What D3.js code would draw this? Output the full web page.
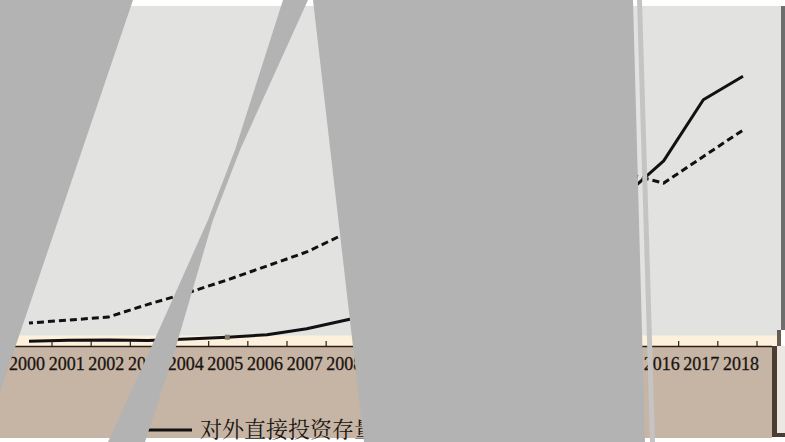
<!DOCTYPE html>
<html>
<head>
<meta charset="utf-8">
<script src="https://cdn.jsdelivr.net/npm/d3@7"></script>
<style>
  html, body { margin: 0; padding: 0; background: #fff; }
  svg { display: block; }
</style>
</head>
<body>
<div id="chart"></div>
<script>
// years on the category axis
var years = [2000, 2001, 2002, 2003, 2004, 2005, 2006, 2007, 2008, 2009,
             2010, 2011, 2012, 2013, 2014, 2015, 2016, 2017, 2018];
// 对外直接投资存量 (solid)
var outStock = [27.8, 34.7, 37.2, 33.2, 44.8, 57.2, 75.0, 120.0, 183.9, 245.8,
                317.2, 424.8, 531.9, 660.5, 882.6, 1097.9, 1357.4, 1809.0, 1982.3];
// 外商直接投资存量 (dashed)
var inStock = [162, 184, 206, 300, 385, 480, 583, 686, 826, 900,
               960, 1010, 1060, 1110, 1180, 1268, 1194, 1390, 1585];
var seriesNames = ["对外直接投资存量", "外商直接投资存量"];
var markerYears = [2005];

var W = 785, H = 442;

var svg = d3.select("#chart").append("svg")
    .attr("width", W)
    .attr("height", H);

// background panels
svg.append("rect").attr("x", 0).attr("y", 6).attr("width", 781).attr("height", 330).attr("fill", "#e2e2e1");
svg.append("rect").attr("x", 781).attr("y", 6).attr("width", 4).attr("height", 324).attr("fill", "#6e6e6e");
svg.append("rect").attr("x", 0).attr("y", 335.5).attr("width", 777).attr("height", 11).attr("fill", "#fdf0dc");
svg.append("rect").attr("x", 777).attr("y", 330).attr("width", 4).attr("height", 16).attr("fill", "#6a5b4c");
svg.append("rect").attr("x", 0).attr("y", 346).attr("width", 772).attr("height", 92).attr("fill", "#c6b5a5");
svg.append("rect").attr("x", 777).attr("y", 346).attr("width", 8).attr("height", 87).attr("fill", "#ebe8e4");
svg.append("rect").attr("x", 772).attr("y", 346).attr("width", 5).attr("height", 91).attr("fill", "#4b3d31");
svg.append("rect").attr("x", 772).attr("y", 433).attr("width", 13).attr("height", 4).attr("fill", "#4b3d31");

// scales
var x = d3.scalePoint().domain(years).range([29, 743]);
var xTick = d3.scalePoint().domain(years).range([52, 757]);
var y = d3.scaleLinear().domain([0, 2500]).range([345, 6]);

// lines
var line = d3.line()
    .x(function(d) { return x(d.year); })
    .y(function(d) { return y(d.v); });

var outData = years.map(function(yr, i) { return {year: yr, v: outStock[i]}; });
var inData = years.map(function(yr, i) { return {year: yr, v: inStock[i]}; });

svg.append("path")
    .datum(inData)
    .attr("d", line)
    .attr("fill", "none")
    .attr("stroke", "#111")
    .attr("stroke-width", 3)
    .attr("stroke-dasharray", "7,4")
    .attr("stroke-dashoffset", -8);

svg.append("path")
    .datum(outData)
    .attr("d", line)
    .attr("fill", "none")
    .attr("stroke", "#111")
    .attr("stroke-width", 3)
    .attr("stroke-linejoin", "round");

svg.selectAll(".mk")
    .data(outData.filter(function(d) { return markerYears.indexOf(d.year) >= 0; }))
    .enter().append("rect")
    .attr("x", function(d) { return x(d.year) - 2.5; })
    .attr("y", function(d) { return y(d.v) - 2.5; })
    .attr("width", 5)
    .attr("height", 5)
    .attr("fill", "#857a66");

// x axis: base line, ticks, labels
svg.append("line")
    .attr("x1", 0).attr("x2", 772)
    .attr("y1", 346.5).attr("y2", 346.5)
    .attr("stroke", "#2a2018").attr("stroke-width", 1.5);

svg.selectAll(".tk")
    .data(years)
    .enter().append("line")
    .attr("x1", function(d) { return xTick(d); })
    .attr("x2", function(d) { return xTick(d); })
    .attr("y1", 341).attr("y2", 346)
    .attr("stroke", "#2a2018").attr("stroke-width", 1.2);

svg.selectAll(".lbl")
    .data(years)
    .enter().append("text")
    .attr("x", function(d) { return x(d) - 2; })
    .attr("y", 370)
    .attr("text-anchor", "middle")
    .attr("font-family", "'Liberation Serif', 'DejaVu Serif', serif")
    .attr("font-size", 18)
    .attr("stroke", "#1a1410")
    .attr("stroke-width", 0.3)
    .attr("fill", "#1a1410")
    .text(function(d) { return d; });

// legend
var legend = [
    {name: seriesNames[0], x: 147, dash: null},
    {name: seriesNames[1], x: 395, dash: "7,4"}
];
var lg = svg.selectAll(".lg")
    .data(legend)
    .enter().append("g")
    .attr("transform", function(d) { return "translate(" + d.x + ",430)"; });
lg.append("line")
    .attr("x1", 0).attr("x2", 45)
    .attr("y1", 0).attr("y2", 0)
    .attr("stroke", "#111")
    .attr("stroke-width", 3)
    .attr("stroke-dasharray", function(d) { return d.dash; });
lg.append("text")
    .attr("x", 53)
    .attr("y", 7)
    .attr("font-family", "'Noto Serif CJK SC', 'Noto Sans CJK SC', sans-serif")
    .attr("font-size", 22)
    .attr("fill", "#1a1410")
    .text(function(d) { return d.name; });

// grey cover shapes lying over the picture
var covers = [
    {pts: [[0, 0], [133, 0], [0, 392]], fill: "#b3b3b3"},
    {pts: [[283, 0], [235, 150], [208, 220], [150, 350], [108, 442], [145, 442], [175, 350], [213, 220], [240, 150], [308, 0]], fill: "#b3b3b3"},
    {pts: [[313, 0], [633, 0], [645, 442], [364, 442]], fill: "#b3b3b3"},
    {pts: [[637, 0], [642, 0], [655, 442], [650, 442]], fill: "#c4c4c4"}
];
svg.selectAll(".cover")
    .data(covers)
    .enter().append("polygon")
    .attr("points", function(d) { return d.pts.map(function(p) { return p.join(","); }).join(" "); })
    .attr("fill", function(d) { return d.fill; });
</script>
</body>
</html>
